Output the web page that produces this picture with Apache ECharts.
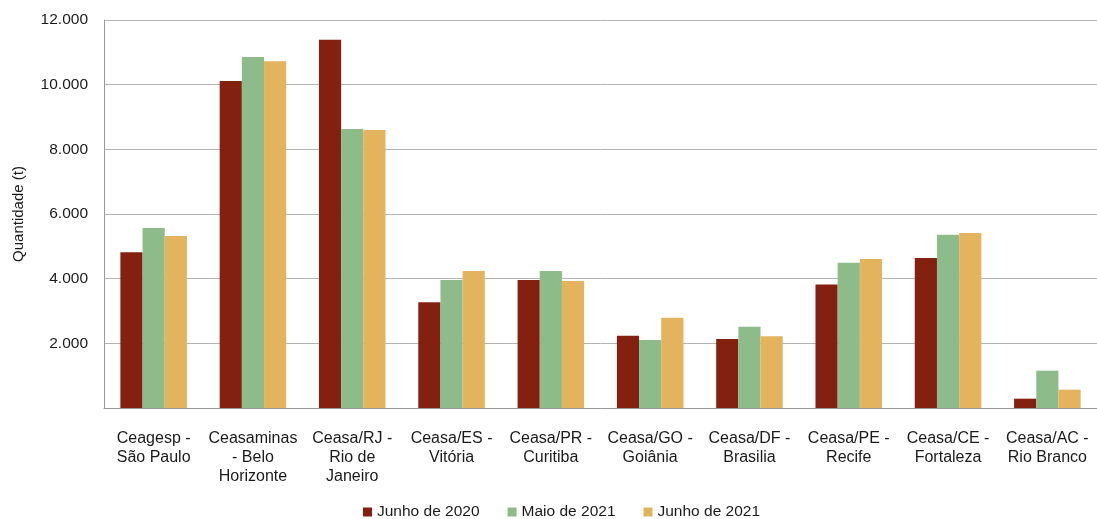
<!DOCTYPE html>
<html>
<head>
<meta charset="utf-8">
<script src="https://cdn.jsdelivr.net/npm/echarts@6/dist/echarts.min.js"></script>
<style>html,body{margin:0;padding:0;background:#fff;}#c{width:1097px;height:519px;}</style>
</head>
<body>
<div id="c"></div>
<script>
const categories = [
  "Ceagesp -\nSão Paulo",
  "Ceasaminas\n- Belo\nHorizonte",
  "Ceasa/RJ -\nRio de\nJaneiro",
  "Ceasa/ES -\nVitória",
  "Ceasa/PR -\nCuritiba",
  "Ceasa/GO -\nGoiânia",
  "Ceasa/DF -\nBrasilia",
  "Ceasa/PE -\nRecife",
  "Ceasa/CE -\nFortaleza",
  "Ceasa/AC -\nRio Branco"
];
const seriesNames = ["Junho de 2020", "Maio de 2021", "Junho de 2021"];
const junho2020 = [4815, 10114, 11392, 3270, 3959, 2237, 2134, 3823, 4640, 288];
const maio2021  = [5567, 10856, 8629, 3959, 4237, 2103, 2515, 4494, 5360, 1154];
const junho2021 = [5320, 10722, 8598, 4237, 3928, 2793, 2216, 4608, 5413, 567];
const colors = ["#84200F", "#8DBB89", "#E3B35E"];

function fmt(v) {
  if (v === 0) return "";
  return String(v).replace(/\B(?=(\d{3})+(?!\d))/g, ".");
}

const font = "Liberation Sans, Arial, sans-serif";
const chart = echarts.init(document.getElementById('c'), null, {renderer: 'canvas'});
chart.setOption({
  animation: false,
  color: colors,
  textStyle: {fontFamily: font},
  grid: {left: 104, right: 0, top: 20, bottom: 111, containLabel: false},
  legend: {
    data: seriesNames,
    left: 358, top: 499,
    itemWidth: 9, itemHeight: 9, itemGap: 28,
    icon: 'rect',
    textStyle: {fontFamily: font, fontSize: 15.5, color: '#1a1a1a'}
  },
  xAxis: {
    type: 'category',
    data: categories,
    axisLine: {lineStyle: {color: '#999', width: 1}},
    axisTick: {show: false},
    axisLabel: {interval: 0, fontFamily: font, fontSize: 16, color: '#1a1a1a', lineHeight: 19, margin: 21}
  },
  yAxis: {
    type: 'value',
    min: 0, max: 12000, interval: 2000,
    name: 'Quantidade (t)',
    nameLocation: 'middle',
    nameGap: 78,
    nameTextStyle: {fontFamily: font, fontSize: 15, color: '#1a1a1a'},
    axisLine: {show: true, lineStyle: {color: '#999'}},
    axisTick: {show: false},
    splitLine: {lineStyle: {color: '#b4b4b4', width: 1}},
    axisLabel: {formatter: fmt, fontFamily: font, fontSize: 15.5, color: '#1a1a1a', margin: 16}
  },
  series: [
    {name: seriesNames[0], type: 'bar', data: junho2020, barGap: '0%', barCategoryGap: '33%'},
    {name: seriesNames[1], type: 'bar', data: maio2021, barGap: '0%', barCategoryGap: '33%'},
    {name: seriesNames[2], type: 'bar', data: junho2021, barGap: '0%', barCategoryGap: '33%'}
  ]
});
</script>
</body>
</html>
